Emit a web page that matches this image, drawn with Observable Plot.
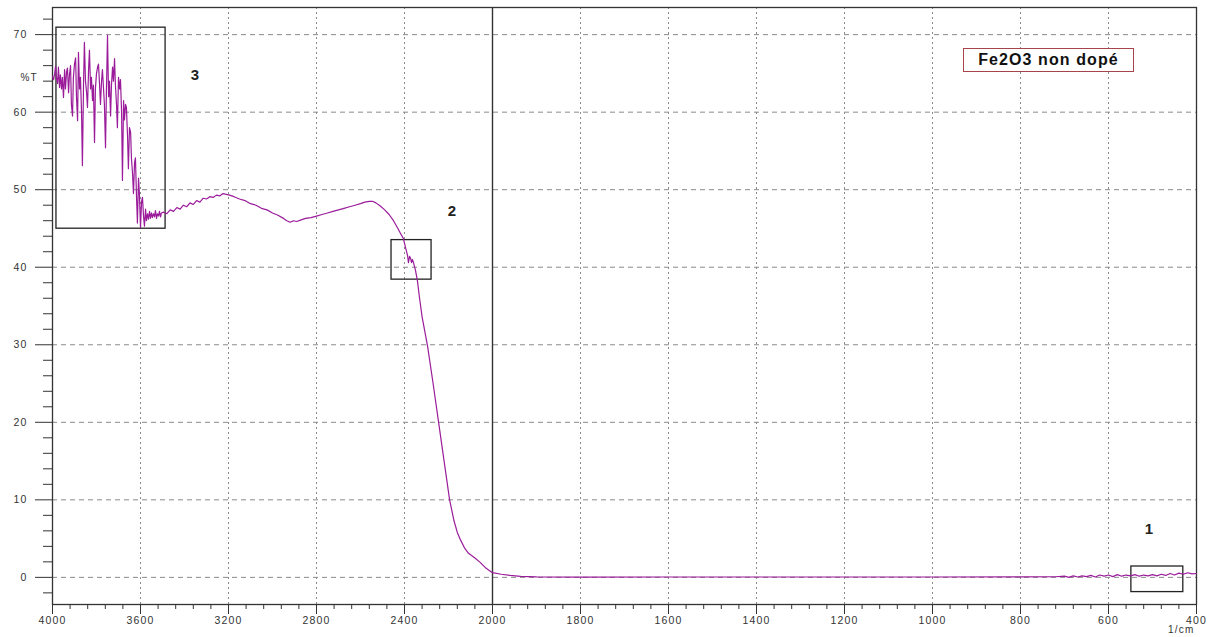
<!DOCTYPE html>
<html>
<head>
<meta charset="utf-8">
<script src="https://cdn.jsdelivr.net/npm/d3@7"></script>
<script src="https://cdn.jsdelivr.net/npm/@observablehq/plot@0.6"></script>
<style>
  html, body { margin: 0; padding: 0; background: #fff; }
  #wrap { position: relative; width: 1210px; height: 637px; overflow: hidden; }
  #legend {
    position: absolute; left: 963px; top: 48px; width: 171px; height: 24px;
    box-sizing: border-box; border: 1.5px solid #a5444a; background: #fff;
    display: flex; align-items: center; justify-content: center;
    font: bold 16px "Liberation Sans", Arial, sans-serif; letter-spacing: 1.1px; color: #111;
  }
</style>
</head>
<body>
<div id="wrap"><div id="legend">Fe2O3 non dopé</div></div>
<script>
// ---- Spectrum data (wavenumber in 1/cm, transmittance in %T) ----
const noisyWn = [4000,3995,3990,3986,3982,3977,3973,3968,3964,3959,3955,3950,3945,3941,3936,3932,3927,3923,3918,3914,
  3909,3905,3900,3895,3891,3886,3882,3877,3873,3868,3864,3859,3855,3850,3845,3841,3836,3832,3827,3823,
  3818,3814,3809,3805,3800,3795,3791,3786,3782,3777,3773,3768,3764,3759,3755,3750,3745,3741,3736,3732,
  3727,3723,3718,3714,3709,3705,3700,3695,3691,3686,3682,3677,3673,3668,3664,3659,3655,3650,3645,3641,
  3636,3632,3627,3623,3618,3614,3609,3605,3600,3595,3591,3586,3582,3577,3573,3568,3564,3559,3555,3550,
  3546,3541,3536,3532,3527,3523,3518,3514,3509,3505];
const noisyT = [64.6,64.2,65.0,65.9,64.5,63.7,65.8,63.2,64.8,63.0,64.5,61.9,65.5,63.0,65.2,65.7,62.5,64.8,66.0,61.0,
  59.5,64.5,66.2,67.0,62.0,58.9,67.7,63.0,64.5,60.0,53.1,63.5,69.0,64.0,62.5,60.6,65.5,68.0,63.0,64.5,
  61.5,63.5,56.1,63.0,65.0,65.8,66.2,63.5,61.0,64.0,65.5,63.0,61.0,55.4,62.5,69.9,62.0,64.0,59.5,63.5,
  65.8,64.0,66.9,63.5,61.0,58.0,64.5,63.0,64.2,60.0,51.2,61.5,59.0,61.0,60.6,57.0,52.7,58.0,57.4,54.0,
  52.0,49.5,53.5,54.1,49.0,45.7,51.5,49.5,45.1,48.5,49.0,46.5,45.3,47.5,46.0,46.9,46.2,47.2,46.3,47.0,
  46.4,46.9,46.5,47.3,46.3,46.9,46.6,47.2,46.5,47.0];

const bandWn = [3495,3480,3465,3450,3435,3420,3405,3390,3375,3360,3345,3330,3315,3300,3285,3270,3255,3240,3225,3210,
  3195,3175,3150,3125,3100,3075,3050,3025,3000,2975,2950,2935,2920,2905,2890,2870,2850,2825,2800,2775,
  2750,2725,2700,2675,2650,2625,2600,2580,2560,2545,2530,2510,2490,2470,2450,2430,2415,2405,2395,2386,
  2382,2377,2373,2368,2364,2359,2350,2341,2332,2320,2295,2270,2245,2220,2195,2175,2160,2145,2125,2109,
  2080,2055,2030,2010,2000,1980,1960,1936,1900];
const bandT = [47.1,46.9,47.4,47.2,47.7,47.5,48.0,47.8,48.3,48.1,48.6,48.4,48.9,48.8,49.1,49.0,49.3,49.2,49.5,49.4,
  49.3,49.1,48.8,48.6,48.2,48.0,47.6,47.4,47.0,46.7,46.3,46.0,45.8,46.0,45.9,46.1,46.3,46.4,46.6,46.8,
  47.0,47.2,47.4,47.6,47.8,48.0,48.2,48.4,48.5,48.5,48.3,47.9,47.4,46.8,46.0,45.0,44.2,43.7,42.5,41.5,
  40.6,41.4,41.2,40.6,41.0,40.6,39.6,38.2,36.1,33.6,29.8,25.0,20.0,15.0,10.0,7.3,5.8,4.8,3.7,3.1,
  2.5,1.9,1.2,0.8,0.6,0.4,0.25,0.12,0.06];

const tailWn = [1800,1600,1400,1200,1000,800,720,700,690,680,670,660,650,640,630,620,610,600,590,580,
  570,560,550,540,530,520,510,500,490,480,470,460,450,440,430,420,410,400];
const tailT = [0.04,0.05,0.05,0.05,0.05,0.06,0.08,0.15,0.0,0.2,0.05,0.2,0.1,0.25,0.05,0.3,0.15,0.3,0.1,0.35,
  0.15,0.3,0.2,0.35,0.15,0.3,0.2,0.35,0.2,0.4,0.25,0.5,0.3,0.55,0.4,0.6,0.45,0.5];

// ---- Axes / ticks ----
const xMajor = [4000,3600,3200,2800,2400,2000,1800,1600,1400,1200,1000,800,600,400];
const xMinor = [3920,3840,3760,3680,3520,3440,3360,3280,3120,3040,2960,2880,2720,2640,2560,2480,2320,2240,2160,2080,
  1960,1920,1880,1840,1760,1720,1680,1640,1560,1520,1480,1440,1360,1320,1280,1240,1160,1120,1080,1040,
  960,920,880,840,760,720,680,640,560,520,480,440];
const xGrid = [3600,3200,2800,2400,1800,1600,1400,1200,1000,800,600];
const yMajor = [0,10,20,30,40,50,60,70];
const yMinor = [-2,2,4,6,8,12,14,16,18,22,24,26,28,32,34,36,38,42,44,46,48,52,54,56,58,62,64,66,68,72];

// ---- Annotation boxes and labels ----
const boxX1 = [3982, 2459, 548];
const boxX2 = [3486, 2277, 430];
const boxY1 = [44.97, 38.4, -1.9];
const boxY2 = [70.9, 43.5, 1.4];
const boxLabel = ["3", "2", "1"];
const labelX = [3350, 2182, 507];
const labelY = [64.8, 47.2, 6.2];

const spectrum = [...noisyWn.map((w,i)=>({wn:w,t:noisyT[i]})),
                  ...bandWn.map((w,i)=>({wn:w,t:bandT[i]})),
                  ...tailWn.map((w,i)=>({wn:w,t:tailT[i]}))];
const boxes = boxX1.map((x,i)=>({x1:x, x2:boxX2[i], y1:boxY1[i], y2:boxY2[i]}));
const labels = boxLabel.map((s,i)=>({s, x:labelX[i], y:labelY[i]}));

const fmt = d => String(d);

const chart = Plot.plot({
  width: 1210, height: 637,
  marginLeft: 52, marginRight: 14, marginTop: 7, marginBottom: 33,
  style: {fontFamily: "'Liberation Sans', Arial, sans-serif", fontSize: "10.5px", color: "#333", background: "#fff", letterSpacing: "1.2px"},
  x: {type: "linear", domain: [4000, 2000, 400], range: [52, 492, 1196]},
  y: {type: "linear", domain: [-3.5, 73.5]},
  marks: [
    Plot.ruleY(yMajor, {stroke: "#8a8a8a", strokeDasharray: "5,4", strokeWidth: 1}),
    Plot.ruleX(xGrid, {stroke: "#8a8a8a", strokeDasharray: "2,3", strokeWidth: 1}),
    Plot.ruleX([2000], {stroke: "#333", strokeWidth: 1.4}),
    Plot.frame({stroke: "#333", strokeWidth: 1.3}),
    Plot.axisY(yMajor, {tickSize: 17, tickPadding: 8, tickFormat: fmt, label: null, stroke: "#333", fill: "#333"}),
    Plot.axisY(yMinor, {tickSize: 9, tickFormat: () => "", label: null, stroke: "#333"}),
    Plot.axisX(xMajor, {tickSize: 10, tickPadding: 2, tickFormat: fmt, label: null, stroke: "#333", fill: "#333"}),
    Plot.axisX(xMinor, {tickSize: 5, tickFormat: () => "", label: null, stroke: "#333"}),
    Plot.rect(boxes, {x1: "x1", x2: "x2", y1: "y1", y2: "y2", fill: "none", stroke: "#222", strokeWidth: 1.3}),
    Plot.line(spectrum, {x: "wn", y: "t", stroke: "#9b1c9b", strokeWidth: 1.2}),
    Plot.text(labels, {x: "x", y: "y", text: "s", fontWeight: "bold", fontSize: 15, fill: "#222"}),
    Plot.text(["%T"], {frameAnchor: "top-left", dx: -32, dy: 66, fill: "#333", fontSize: 10}),
    Plot.text(["1/cm"], {frameAnchor: "bottom-right", dx: -2, dy: 28, fill: "#333", fontSize: 10, letterSpacing: "0.5px"})
  ]
});
document.getElementById("wrap").prepend(chart);
</script>
</body>
</html>
